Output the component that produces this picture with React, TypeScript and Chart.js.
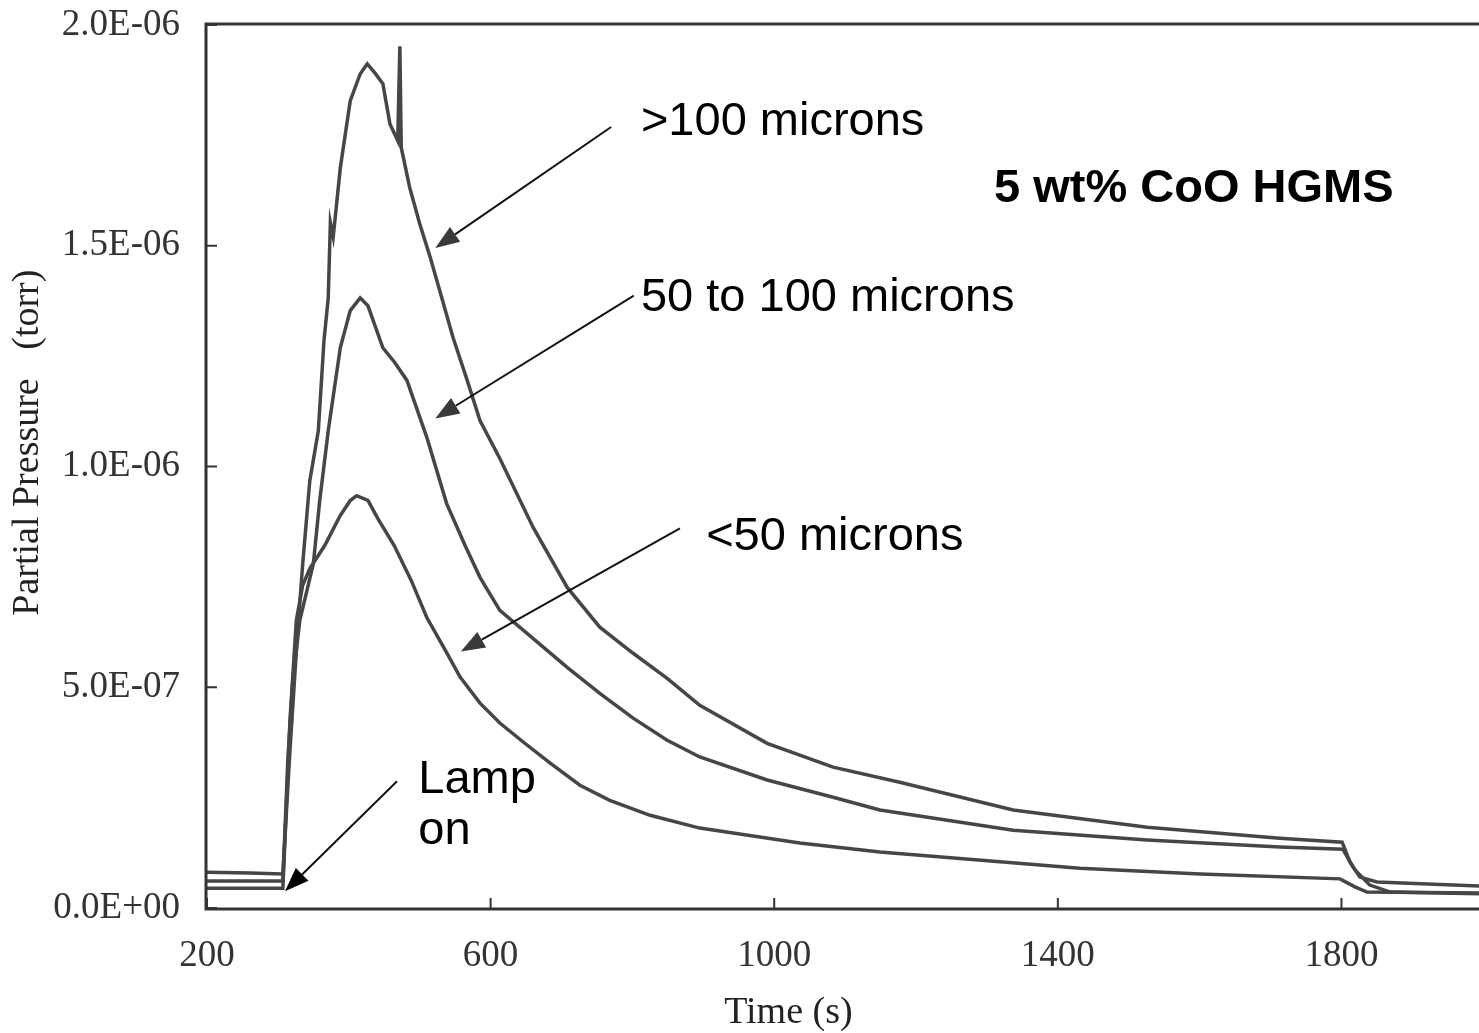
import React, { useEffect, useRef } from "react";
import { Chart, registerables } from "chart.js";

Chart.register(...registerables);

// ---- axes ----
const xTicks = [200, 600, 1000, 1400, 1800];
const yTicks = [0, 0.5e-6, 1.0e-6, 1.5e-6, 2.0e-6];
const yTickLabels = ["0.0E+00", "5.0E-07", "1.0E-06", "1.5E-06", "2.0E-06"];
const xTitle = "Time (s)";
const yTitle = "Partial Pressure   (torr)";

// ---- series (time in s, pressure in 1e-6 torr) ----
const timeLarge = [200, 261, 307, 317, 327, 335, 345, 357, 365, 371, 374, 378, 388, 402, 416, 426, 437, 448, 458, 469, 472, 474, 486, 500, 515, 529, 547, 567, 585, 613, 660, 708, 754, 801, 849, 895, 990, 1083, 1177, 1337, 1526, 1713, 1801, 1812, 1826, 1850, 1994];
const pressLarge = [0.081, 0.079, 0.077, 0.357, 0.606, 0.78, 0.968, 1.081, 1.285, 1.382, 1.552, 1.52, 1.676, 1.828, 1.889, 1.912, 1.891, 1.867, 1.776, 1.738, 1.952, 1.722, 1.631, 1.55, 1.473, 1.394, 1.292, 1.195, 1.104, 1.018, 0.862, 0.726, 0.636, 0.577, 0.52, 0.459, 0.373, 0.319, 0.285, 0.222, 0.183, 0.158, 0.149, 0.104, 0.07, 0.059, 0.05];

const timeMedium = [200, 307, 314, 321, 331, 350, 359, 371, 388, 402, 416, 427, 448, 465, 482, 510, 538, 564, 585, 613, 708, 754, 801, 849, 895, 990, 1083, 1149, 1337, 1526, 1713, 1802, 1819, 1840, 1869, 1994];
const pressMedium = [0.061, 0.061, 0.335, 0.516, 0.652, 0.78, 0.923, 1.081, 1.269, 1.353, 1.382, 1.364, 1.269, 1.235, 1.195, 1.066, 0.916, 0.821, 0.749, 0.674, 0.545, 0.486, 0.43, 0.38, 0.342, 0.29, 0.251, 0.222, 0.176, 0.154, 0.138, 0.133, 0.086, 0.052, 0.036, 0.032];

const timeSmall = [200, 307, 317, 326, 335, 345, 366, 388, 402, 411, 427, 441, 464, 488, 510, 536, 557, 585, 613, 646, 684, 726, 768, 825, 895, 1036, 1149, 1431, 1601, 1798, 1819, 1836, 1994];
const pressSmall = [0.045, 0.045, 0.425, 0.652, 0.731, 0.769, 0.821, 0.889, 0.923, 0.934, 0.923, 0.882, 0.821, 0.742, 0.658, 0.584, 0.523, 0.464, 0.419, 0.376, 0.328, 0.278, 0.244, 0.21, 0.181, 0.147, 0.127, 0.09, 0.077, 0.066, 0.048, 0.036, 0.034];

const seriesNames = [">100 microns", "50 to 100 microns", "<50 microns"];

// ---- annotations (data coordinates: time s, pressure 1e-6 torr) ----
const labelTexts = [">100 microns", "50 to 100 microns", "<50 microns", "Lamp", "on", "5 wt% CoO HGMS"];
const labelTimes = [812, 812, 904, 498, 498, 1310];
const labelPress = [1.751, 1.353, 0.812, 0.26, 0.145, 1.6];
const labelBold = [false, false, false, false, false, true];

const arrowFromTime = [770, 802, 867, 468];
const arrowFromPress = [1.769, 1.387, 0.86, 0.287];
const arrowToTime = [522, 522, 558, 310];
const arrowToPress = [1.495, 1.109, 0.581, 0.038];

const LINE_COLOR = "#464646";
const AXIS_COLOR = "#333333";
const SERIF = "'Liberation Serif', 'Times New Roman', serif";
const SANS = "'Liberation Sans', Arial, sans-serif";

const framePlugin = {
  id: "frameAndNotes",
  afterDatasetsDraw(chart: any) {
    const { ctx, chartArea, scales } = chart;
    const xs = scales.x;
    const ys = scales.y;
    const { left, right, top, bottom } = chartArea;
    ctx.save();
    // frame
    ctx.strokeStyle = AXIS_COLOR;
    ctx.lineWidth = 3;
    ctx.beginPath();
    ctx.moveTo(right + 5, top - 1);
    ctx.lineTo(left - 1, top - 1);
    ctx.lineTo(left - 1, bottom + 1);
    ctx.lineTo(right + 5, bottom + 1);
    ctx.stroke();
    // inward ticks
    ctx.lineWidth = 2;
    ctx.beginPath();
    xTicks.forEach((v) => {
      const px = xs.getPixelForValue(v);
      ctx.moveTo(px, bottom);
      ctx.lineTo(px, bottom - 10);
    });
    yTicks.forEach((v) => {
      const py = ys.getPixelForValue(v);
      ctx.moveTo(left, py);
      ctx.lineTo(left + 10, py);
    });
    ctx.stroke();

    // arrows
    for (let i = 0; i < arrowFromTime.length; i++) {
      const x1 = xs.getPixelForValue(arrowFromTime[i]);
      const y1 = ys.getPixelForValue(arrowFromPress[i] * 1e-6);
      const x2 = xs.getPixelForValue(arrowToTime[i]);
      const y2 = ys.getPixelForValue(arrowToPress[i] * 1e-6);
      const ang = Math.atan2(y2 - y1, x2 - x1);
      const headLen = 24;
      const headW = 9;
      const bx = x2 - headLen * Math.cos(ang);
      const by = y2 - headLen * Math.sin(ang);
      ctx.strokeStyle = "#111";
      ctx.lineWidth = 2;
      ctx.beginPath();
      ctx.moveTo(x1, y1);
      ctx.lineTo(bx, by);
      ctx.stroke();
      ctx.fillStyle = i === 3 ? "#000" : "#3a3a3a";
      ctx.beginPath();
      ctx.moveTo(x2, y2);
      ctx.lineTo(bx + headW * Math.sin(ang), by - headW * Math.cos(ang));
      ctx.lineTo(bx - headW * Math.sin(ang), by + headW * Math.cos(ang));
      ctx.closePath();
      ctx.fill();
    }

    // labels
    ctx.fillStyle = "#000";
    ctx.textAlign = "left";
    ctx.textBaseline = "alphabetic";
    for (let i = 0; i < labelTexts.length; i++) {
      ctx.font = (labelBold[i] ? "bold 47px " : "47px ") + SANS;
      ctx.fillText(labelTexts[i], xs.getPixelForValue(labelTimes[i]), ys.getPixelForValue(labelPress[i] * 1e-6));
    }

    // axis titles
    ctx.fillStyle = "#222";
    ctx.font = "38px " + SERIF;
    ctx.textAlign = "center";
    ctx.textBaseline = "middle";
    ctx.fillText(xTitle, xs.getPixelForValue(1020), bottom + 105);
    ctx.save();
    ctx.translate(left - 179, ys.getPixelForValue(1.054e-6));
    ctx.rotate(-Math.PI / 2);
    ctx.fillText(yTitle, 0, 0);
    ctx.restore();
    ctx.restore();
  },
};

export default function App() {
  const ref = useRef<HTMLCanvasElement | null>(null);
  useEffect(() => {
    if (!ref.current) return;
    const mk = (t: number[], p: number[]) => t.map((x, i) => ({ x, y: p[i] * 1e-6 }));
    const chart = new Chart(ref.current, {
      type: "line",
      data: {
        datasets: [
          { label: seriesNames[0], data: mk(timeLarge, pressLarge) },
          { label: seriesNames[1], data: mk(timeMedium, pressMedium) },
          { label: seriesNames[2], data: mk(timeSmall, pressSmall) },
        ].map((d) => ({
          ...d,
          borderColor: LINE_COLOR,
          borderWidth: 3.5,
          pointRadius: 0,
          tension: 0,
          fill: false,
        })),
      },
      options: {
        animation: false,
        responsive: false,
        devicePixelRatio: 1,
        layout: { padding: { top: 25, left: 0, right: 0, bottom: 0 } },
        plugins: { legend: { display: false }, tooltip: { enabled: false } },
        scales: {
          x: {
            type: "linear",
            min: 200,
            max: 1994,
            afterBuildTicks: (s: any) => {
              s.ticks = xTicks.map((v) => ({ value: v }));
            },
            afterFit: (s: any) => {
              s.height = 125;
              s.paddingLeft = 0;
              s.paddingRight = 0;
              s.paddingTop = 0;
              s.paddingBottom = 0;
            },
            grid: { display: false, drawTicks: false },
            border: { display: false },
            ticks: {
              autoSkip: false,
              maxRotation: 0,
              padding: 26,
              color: AXIS_COLOR,
              font: { family: SERIF, size: 37 },
              callback: (v: any) => String(v),
            },
          },
          y: {
            type: "linear",
            min: 0,
            max: 2e-6,
            afterBuildTicks: (s: any) => {
              s.ticks = yTicks.map((v) => ({ value: v }));
            },
            afterFit: (s: any) => {
              s.width = 207;
              s.paddingLeft = 0;
              s.paddingRight = 0;
              s.paddingTop = 0;
              s.paddingBottom = 0;
            },
            grid: { display: false, drawTicks: false },
            border: { display: false },
            ticks: {
              autoSkip: false,
              padding: 27,
              color: AXIS_COLOR,
              font: { family: SERIF, size: 37 },
              callback: (_v: any, i: number) => yTickLabels[i],
            },
          },
        },
      },
      plugins: [framePlugin],
    });
    return () => chart.destroy();
  }, []);
  return (
    <div style={{ position: "fixed", left: 0, top: 0, width: 1479, height: 1033, background: "#fff" }}>
      <canvas ref={ref} width={1479} height={1033} />
    </div>
  );
}
